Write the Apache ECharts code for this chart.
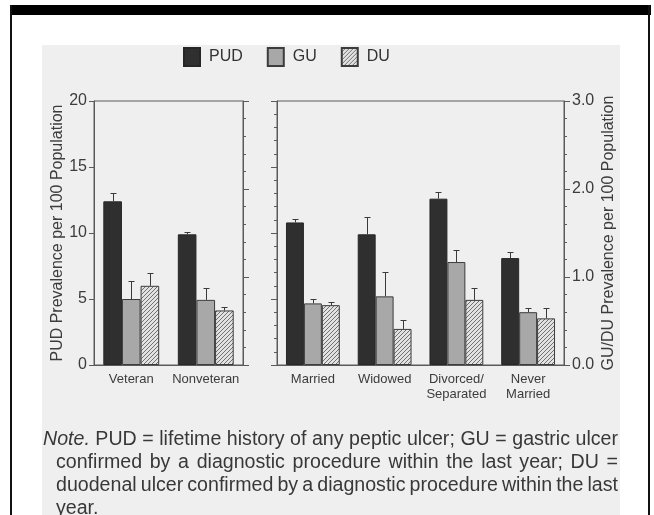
<!DOCTYPE html>
<html>
<head>
<meta charset="utf-8">
<script src="https://cdn.jsdelivr.net/npm/echarts@6/dist/echarts.min.js"></script>
<style>
  html, body { margin: 0; padding: 0; background: #ffffff; }
  #chart { width: 654px; height: 515px; }
</style>
</head>
<body>
<div id="chart"></div>
<script>
// Group labels for the two panels
const groupsVeteran = ['Veteran', 'Nonveteran'];
const groupsMarital = ['Married', 'Widowed', 'Divorced/\nSeparated', 'Never\nMarried'];

// PUD (left scale, per 100) with upper error limits
const pudVeteran = [12.4, 9.9];
const pudVeteranHi = [13.05, 10.05];
const pudMarital = [10.8, 9.9, 12.6, 8.1];
const pudMaritalHi = [11.05, 11.25, 13.1, 8.55];

// GU (right scale, per 100) with upper error limits
const guVeteran = [0.75, 0.74];
const guVeteranHi = [0.96, 0.87];
const guMarital = [0.70, 0.78, 1.17, 0.60];
const guMaritalHi = [0.75, 1.06, 1.31, 0.65];

// DU (right scale, per 100) with upper error limits
const duVeteran = [0.90, 0.62];
const duVeteranHi = [1.04, 0.66];
const duMarital = [0.68, 0.41, 0.74, 0.53];
const duMaritalHi = [0.72, 0.51, 0.875, 0.65];

// Axis tick settings
const pudTicks = { min: 0, max: 20, interval: 5 };
const guduTicks = { min: 0, max: 3, interval: 1 };

// Footnote lines
const noteLines = [
  [{ t: 'Note.', italic: true }, 'PUD', '=', 'lifetime', 'history', 'of', 'any', 'peptic', 'ulcer;', 'GU', '=', 'gastric', 'ulcer'],
  ['confirmed', 'by', 'a', 'diagnostic', 'procedure', 'within', 'the', 'last', 'year;', 'DU', '='],
  ['duodenal', 'ulcer', 'confirmed', 'by', 'a', 'diagnostic', 'procedure', 'within', 'the', 'last'],
  ['year.']
];

const FONT = '"Liberation Sans", Arial, Helvetica, sans-serif';
const INK = '#3c3c3c';
const AXIS = '#5a5a5a';

// Diagonal hatch fill used for DU bars
function hatchPattern() {
  const c = document.createElement('canvas');
  c.width = 4; c.height = 4;
  const g = c.getContext('2d');
  g.fillStyle = '#e2e2e2';
  g.fillRect(0, 0, 4, 4);
  g.strokeStyle = '#707070';
  g.lineWidth = 1;
  g.beginPath();
  g.moveTo(0, 4); g.lineTo(4, 0);
  g.moveTo(-1, 1); g.lineTo(1, -1);
  g.moveTo(3, 5); g.lineTo(5, 3);
  g.stroke();
  return { image: c, repeat: 'repeat' };
}
const hatch = hatchPattern();

const seriesStyle = {
  PUD: { color: '#2f2f2f', borderColor: '#262626', borderWidth: 1 },
  GU: { color: '#a8a8a8', borderColor: '#3c3c3c', borderWidth: 1 },
  DU: { color: hatch, borderColor: '#3c3c3c', borderWidth: 1 }
};

function barSeries(name, data, xi, yi) {
  return {
    name, type: 'bar', data, xAxisIndex: xi, yAxisIndex: yi,
    barWidth: '25%', barGap: '0%',
    itemStyle: seriesStyle[name],
    emphasis: { disabled: true },
    silent: true
  };
}

// Error bars drawn up from the top of each bar; slot = bar position within group
function errorSeries(vals, his, slot, xi, yi) {
  return {
    type: 'custom', xAxisIndex: xi, yAxisIndex: yi, silent: true, z: 5,
    data: vals.map((v, i) => [i, v, his[i], slot]),
    renderItem(params, api) {
      const band = api.size([1, 0])[0];
      const base = api.coord([api.value(0), api.value(1)]);
      const top = api.coord([api.value(0), api.value(2)]);
      const cx = Math.round(base[0] + api.value(3) * band * 0.25) + 0.5;
      const ty = Math.round(top[1]) + 0.5;
      const st = { stroke: '#3a3a3a', lineWidth: 1 };
      return {
        type: 'group',
        children: [
          { type: 'line', shape: { x1: cx, y1: base[1], x2: cx, y2: ty }, style: st },
          { type: 'line', shape: { x1: cx - 3, y1: ty, x2: cx + 3, y2: ty }, style: st }
        ]
      };
    }
  };
}

function catAxis(grid, data) {
  return {
    type: 'category', gridIndex: grid, data,
    axisLine: { lineStyle: { color: AXIS, width: 1 } },
    axisTick: { show: false },
    axisLabel: { interval: 0, color: INK, fontFamily: FONT, fontSize: 13, margin: 7, lineHeight: 15 }
  };
}

function valAxis(grid, pos, ticks, opts) {
  return Object.assign({
    type: 'value', gridIndex: grid, position: pos,
    min: ticks.min, max: ticks.max, interval: ticks.interval,
    splitLine: { show: false },
    axisLine: { show: true, lineStyle: { color: AXIS, width: 1 } },
    axisTick: { show: true, inside: false, length: 5, lineStyle: { color: AXIS } }
  }, opts);
}

// Word-by-word justified footnote as graphic text; the font size is chosen
// so the first line fills the text block with ordinary word spacing
function buildNote() {
  const meas = document.createElement('canvas').getContext('2d');
  const lineH = 23;
  const top0 = 440;
  const right = 618;
  const fontOf = (it, s) => (it.italic ? 'italic ' : '') + s + 'px ' + FONT;
  const first = noteLines[0].map(w => typeof w === 'string' ? { t: w, italic: false } : w);
  const widthAt = s => {
    let w = 0;
    first.forEach((it, i) => {
      meas.font = fontOf(it, s);
      w += meas.measureText(it.t).width;
      if (i) { meas.font = s + 'px ' + FONT; w += meas.measureText(' ').width; }
    });
    return w;
  };
  const size = Math.floor(20 * (right - 43) / widthAt(20) * 10) / 10;
  const els = [];
  noteLines.forEach((words, li) => {
    const left = li === 0 ? 43 : 56;
    const items = words.map(w => typeof w === 'string' ? { t: w, italic: false } : w);
    const widths = items.map(it => { meas.font = fontOf(it, size); return meas.measureText(it.t).width; });
    const total = widths.reduce((a, b) => a + b, 0);
    const justify = li < noteLines.length - 1 && items.length > 1;
    meas.font = size + 'px ' + FONT;
    const gap = justify ? (right - left - total) / (items.length - 1) : meas.measureText(' ').width;
    let x = left;
    items.forEach((it, i) => {
      els.push({
        type: 'text', x, y: top0 + li * lineH, silent: true,
        style: { text: it.t, fill: '#383838', font: fontOf(it, size), verticalAlign: 'middle' }
      });
      x += widths[i] + gap;
    });
  });
  return els;
}

const chart = echarts.init(document.getElementById('chart'));
chart.setOption({
  backgroundColor: '#ffffff',
  animation: false,
  textStyle: { fontFamily: FONT },
  graphic: [
    { type: 'rect', z: -10, silent: true, shape: { x: 42, y: 45, width: 578, height: 470 }, style: { fill: '#efefef' } },
    { type: 'rect', silent: true, shape: { x: 10, y: 5, width: 641, height: 10 }, style: { fill: '#000000' } },
    { type: 'rect', silent: true, shape: { x: 10, y: 5, width: 2, height: 510 }, style: { fill: '#111111' } },
    { type: 'rect', silent: true, shape: { x: 648, y: 5, width: 2, height: 510 }, style: { fill: '#111111' } }
  ].concat(buildNote()),
  legend: {
    data: ['PUD', 'GU', 'DU'],
    left: 183, top: 47, padding: 0,
    itemWidth: 16, itemHeight: 18, itemGap: 24,
    icon: 'rect',
    selectedMode: false,
    textStyle: { color: '#333', fontFamily: FONT, fontSize: 16, padding: [0, 0, 0, 4] }
  },
  grid: [
    { left: 94, top: 101, width: 149, height: 264, show: true, borderColor: AXIS, borderWidth: 1, backgroundColor: 'transparent' },
    { left: 277, top: 101, width: 287, height: 264, show: true, borderColor: AXIS, borderWidth: 1, backgroundColor: 'transparent' }
  ],
  xAxis: [catAxis(0, groupsVeteran), catAxis(1, groupsMarital)],
  yAxis: [
    valAxis(0, 'left', pudTicks, {
      name: 'PUD Prevalence per 100 Population', nameLocation: 'middle', nameRotate: 90, nameGap: 23,
      nameTextStyle: { color: INK, fontFamily: FONT, fontSize: 16 },
      axisLabel: { color: INK, fontFamily: FONT, fontSize: 16, margin: 7 }
    }),
    valAxis(0, 'right', guduTicks, {
      axisLabel: { show: false },
      axisTick: { show: true, length: 6, lineStyle: { color: AXIS } },
      minorTick: { show: true, splitNumber: 5, length: 3, lineStyle: { color: AXIS } }
    }),
    valAxis(1, 'left', pudTicks, {
      axisLabel: { show: false },
      axisTick: { show: true, length: 6, lineStyle: { color: AXIS } },
      minorTick: { show: true, splitNumber: 5, length: 3, lineStyle: { color: AXIS } }
    }),
    valAxis(1, 'right', guduTicks, {
      name: 'GU/DU Prevalence per 100 Population', nameLocation: 'middle', nameRotate: 90, nameGap: 37,
      nameTextStyle: { color: INK, fontFamily: FONT, fontSize: 16 },
      axisLabel: { color: INK, fontFamily: FONT, fontSize: 16, margin: 8, formatter: v => v.toFixed(1) },
      axisTick: { show: true, length: 6, lineStyle: { color: AXIS } },
      minorTick: { show: true, splitNumber: 5, length: 3, lineStyle: { color: AXIS } }
    })
  ],
  series: [
    barSeries('PUD', pudVeteran, 0, 0),
    barSeries('GU', guVeteran, 0, 1),
    barSeries('DU', duVeteran, 0, 1),
    barSeries('PUD', pudMarital, 1, 2),
    barSeries('GU', guMarital, 1, 3),
    barSeries('DU', duMarital, 1, 3),
    errorSeries(pudVeteran, pudVeteranHi, -1, 0, 0),
    errorSeries(guVeteran, guVeteranHi, 0, 0, 1),
    errorSeries(duVeteran, duVeteranHi, 1, 0, 1),
    errorSeries(pudMarital, pudMaritalHi, -1, 1, 2),
    errorSeries(guMarital, guMaritalHi, 0, 1, 3),
    errorSeries(duMarital, duMaritalHi, 1, 1, 3)
  ]
});
</script>
</body>
</html>
